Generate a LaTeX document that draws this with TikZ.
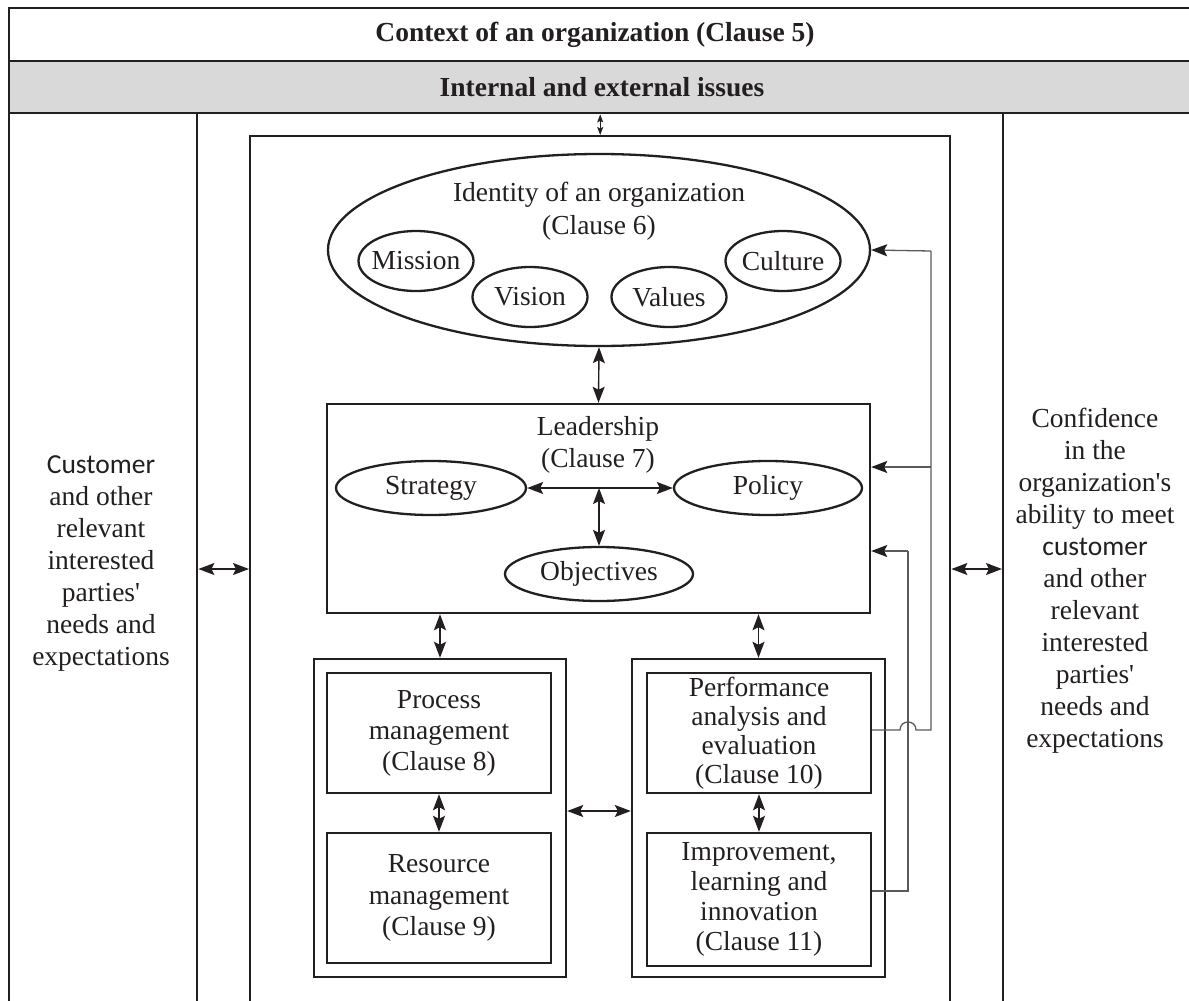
\documentclass[tikz,border=0pt]{standalone}
\usepackage{fontspec}
\setmainfont{Liberation Serif}
\newfontfamily\calib{Carlito}
\usetikzlibrary{arrows.meta,shapes.geometric}
\definecolor{ink}{HTML}{231F20}
\definecolor{band}{HTML}{D9D9D9}
\definecolor{fb}{HTML}{5A5A5A}
\begin{document}
\begin{tikzpicture}[x=1pt,y=-1pt,
  every node/.style={font=\fontsize{27.5}{31}\selectfont, text=ink, align=center},
  rectbox/.style={draw=ink, line width=2.4pt, inner sep=0pt, rectangle},
  oval/.style={ellipse, draw=ink, line width=2.3pt, inner sep=0pt},
  smalloval/.style={ellipse, draw=ink, line width=2.3pt, inner xsep=-6pt, inner ysep=0pt, minimum width=115pt, minimum height=60pt},
  bigtip/.style={Stealth[length=16pt,width=12pt,inset=3pt]},
  dbl/.style={{Stealth[length=16pt,width=12pt,inset=3pt]}-{Stealth[length=16pt,width=12pt,inset=3pt]}, draw=ink, line width=1.4pt},
  smalldbl/.style={{Stealth[length=8pt,width=6pt,inset=1.5pt]}-{Stealth[length=8pt,width=6pt,inset=1.5pt]}, draw=ink, line width=1pt},
  fbline/.style={draw=fb, line width=1.3pt},
  fbarrow/.style={-{Stealth[length=16pt,width=12pt,inset=3pt,color=ink]}, draw=fb, line width=1.3pt},
  plain/.style={draw=none, inner sep=0pt}
]
\clip (0,0) rectangle (1189,1001);
% header
\node[rectbox, minimum width=1200pt, minimum height=53pt, anchor=north west] (ctx) at (8,7) {};
\node[rectbox, fill=band, minimum width=1200pt, minimum height=52pt, anchor=north west] (iss) at (8,60) {};
\node[plain] (ctxt) at (595,35) {\bfseries Context of an organization (Clause 5)};
\node[plain] (isst) at (602,87) {\bfseries Internal and external issues};
% columns
\node[rectbox, minimum width=188pt, minimum height=930pt, anchor=north west] (leftcol) at (8,112) {};
\node[rectbox, minimum width=200pt, minimum height=930pt, anchor=north west] (rightcol) at (1002,112) {};
\node[rectbox, minimum width=700pt, minimum height=920pt, anchor=north west] (core) at (249,135) {};
% side texts
\node[plain, font=\fontsize{27.5}{32}\selectfont] (lefttxt) at (101,563) {{\calib Customer}\\and other\\relevant\\interested\\parties\textquotesingle\\needs and\\expectations};
\node[plain, font=\fontsize{27.5}{32}\selectfont] (righttxt) at (1095,581) {Confidence\\in the\\organization\textquotesingle s\\ability to meet\\{\calib customer}\\and other\\relevant\\interested\\parties\textquotesingle\\needs and\\expectations};
% identity
\node[oval, minimum width=542pt, minimum height=192pt] (ident) at (599,250) {};
\node[plain, font=\fontsize{27.5}{33}\selectfont] (identt) at (599,211) {Identity of an organization\\(Clause 6)};
\node[smalloval] (mission) at (416,261) {Mission};
\node[smalloval] (vision) at (530,297) {Vision};
\node[smalloval] (values) at (669,297) {Values};
\node[smalloval] (culture) at (783,261) {Culture};
% leadership
\node[rectbox, minimum width=543pt, minimum height=209pt] (lead) at (598.5,508.5) {};
\node[plain, font=\fontsize{27.5}{32}\selectfont] (leadt) at (598,445) {Leadership\\(Clause 7)};
\node[oval, minimum width=190pt, minimum height=54pt] (strat) at (431,488) {Strategy};
\node[oval, minimum width=188pt, minimum height=54pt] (policy) at (768,488) {Policy};
\node[oval, minimum width=188pt, minimum height=54pt] (obj) at (599,574) {Objectives};
\coordinate (junc) at (599,488);
% groups
\node[rectbox, minimum width=252pt, minimum height=318pt] (lgrp) at (440,818) {};
\node[rectbox, minimum width=253pt, minimum height=318pt] (rgrp) at (758.5,818) {};
\node[rectbox, minimum width=224pt, minimum height=120pt, font=\fontsize{27.5}{31}\selectfont] (proc) at (439,733) {Process\\management\\(Clause 8)};
\node[rectbox, minimum width=224pt, minimum height=130pt, font=\fontsize{27.5}{31.5}\selectfont] (res) at (439,898) {Resource\\management\\(Clause 9)};
\node[rectbox, minimum width=224pt, minimum height=120pt, font=\fontsize{27.5}{29}\selectfont] (perf) at (759,733) {Performance\\analysis and\\evaluation\\(Clause 10)};
\node[rectbox, minimum width=224pt, minimum height=133pt, font=\fontsize{27.5}{30}\selectfont] (imp) at (759,899.5) {Improvement,\\learning and\\innovation\\(Clause 11)};
% connectors
\coordinate (sidey) at (0,569);
\draw[smalldbl] (iss.south -| core.north) -- (core.north);
\draw[dbl] (ident.south) -- (lead.north);
\draw[dbl] (strat.east) -- (policy.west);
\draw[dbl] (junc) -- (obj.north);
\draw[dbl] (lead.south -| lgrp.north) -- (lgrp.north);
\draw[dbl] (lead.south -| rgrp.north) -- (rgrp.north);
\draw[dbl] (proc.south) -- (res.north);
\draw[dbl] (perf.south) -- (imp.north);
\draw[dbl] ([yshift=7pt]lgrp.east) -- ([yshift=7pt]rgrp.west);
\draw[dbl] (leftcol.east |- sidey) -- (core.west |- sidey);
\draw[dbl] (core.east |- sidey) -- (rightcol.west |- sidey);
% feedback
\coordinate (fbA) at (931,251);
\coordinate (fbB) at (931,467);
\coordinate (fbC) at (908,551);
\draw[fbline] (perf.east |- 0,730) -- (900,730) .. controls (900,719.3) and (916,719.3) .. (916,730) -- (931,730) -- (fbA);
\draw[fbarrow] (fbA) -- (ident.east);
\draw[fbarrow] (fbB) -- (lead.east |- fbB);
\draw[fbline] (imp.east |- 0,891) -- (908,891) -- (fbC);
\draw[fbarrow] (fbC) -- (lead.east |- fbC);
\end{tikzpicture}
\end{document}
